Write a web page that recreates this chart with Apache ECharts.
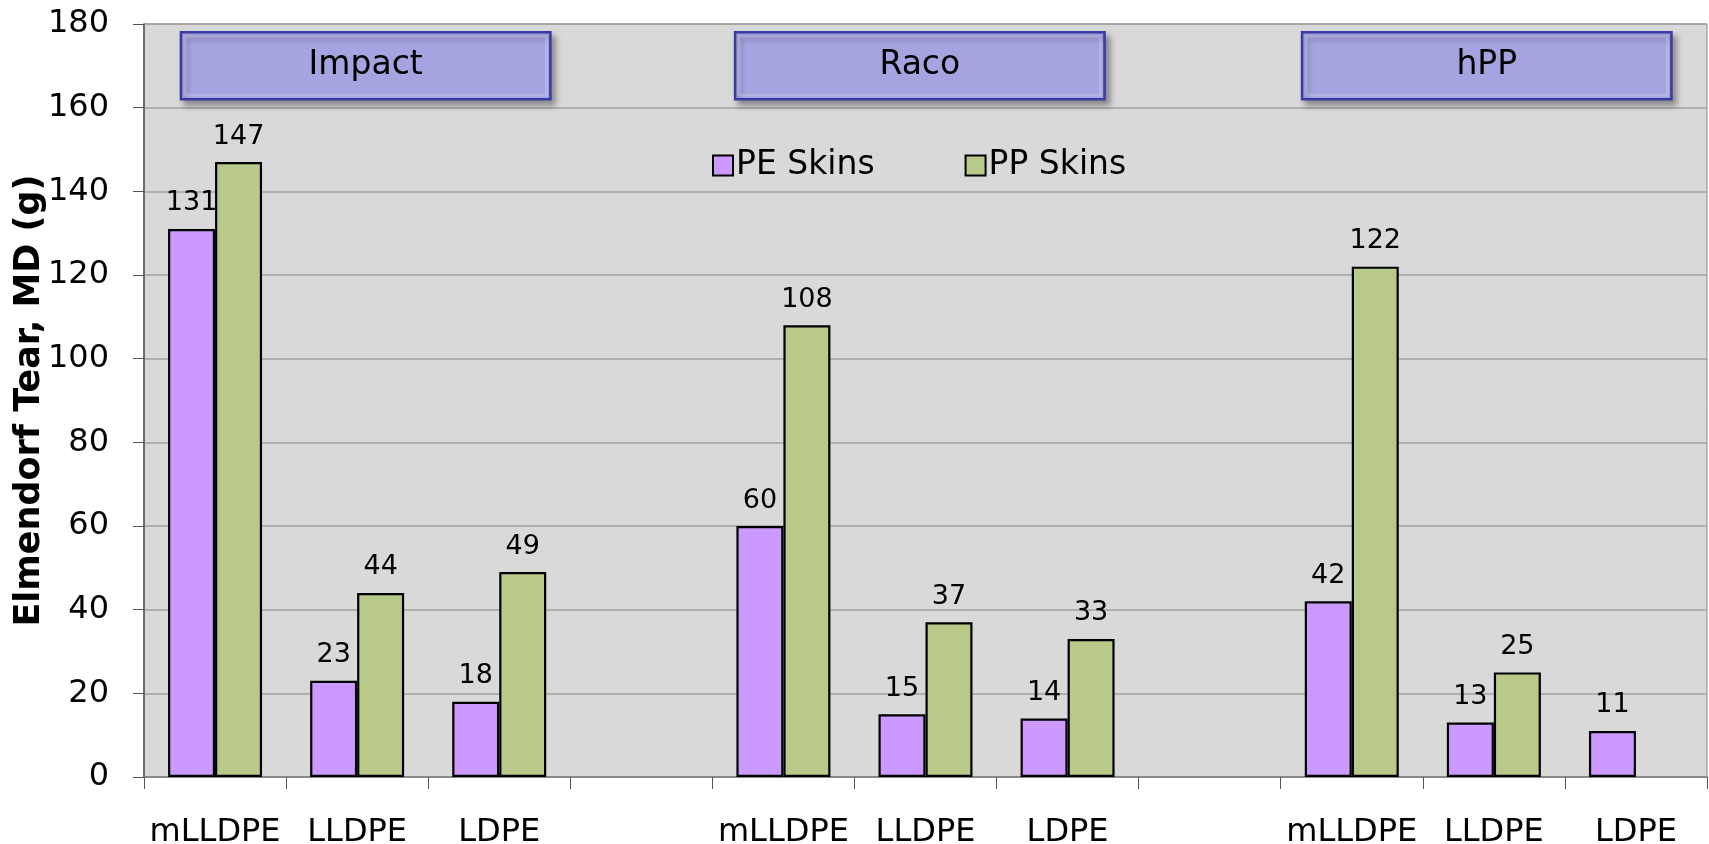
<!DOCTYPE html>
<html>
<head>
<meta charset="utf-8">
<title>Elmendorf Tear, MD</title>
<script src="https://cdn.jsdelivr.net/npm/echarts/dist/echarts.min.js"></script>
<style>
  html, body { margin: 0; padding: 0; background: #fff; }
  #chart { width: 1709px; height: 844px; }
</style>
</head>
<body>
<div id="chart"></div>
<script>
// categories (empty strings are the gaps between the three groups)
const categories = ['mLLDPE', 'LLDPE', 'LDPE', '', 'mLLDPE', 'LLDPE', 'LDPE', '', 'mLLDPE', 'LLDPE', 'LDPE']
const peSkins = [131, 23, 18, null, 60, 15, 14, null, 42, 13, 11]
const ppSkins = [147, 44, 49, null, 108, 37, 33, null, 122, 25, null]
// group header boxes: name + where the box starts, in category units
const groupNames = ['Impact', 'Raco', 'hPP']
const groupFrom = [0.26, 4.16, 8.15]

const FONT = 'DejaVu Sans, Verdana, sans-serif'

function initChart() {
  const chartEl = document.getElementById('chart')
  const myChart = echarts.init(chartEl, null, { renderer: 'canvas' })

  const barStyle = (color) => ({
    color: color,
    borderColor: '#000',
    borderWidth: 2.2
  })
  const labelStyle = {
    show: true,
    position: 'top',
    distance: 12,
    color: '#000',
    fontFamily: FONT,
    fontSize: 27
  }

  const options = {
    animation: false,
    textStyle: { fontFamily: FONT },
    grid: {
      left: 144,
      right: 2,
      top: 24,
      bottom: 67,
      show: true,
      backgroundColor: '#d9d9d9',
      borderColor: '#8c8c8c',
      borderWidth: 1,
      containLabel: false,
      outerBoundsMode: 'none' // 固定绘图区, 不自动收缩
    },
    legend: {
      left: 707,
      top: 144,
      itemWidth: 20,
      itemHeight: 20,
      itemGap: 90,
      icon: 'rect',
      textStyle: { color: '#000', fontSize: 33, fontFamily: FONT, padding: [0, 0, 0, -2] },
      data: ['PE Skins', 'PP Skins']
    },
    xAxis: {
      type: 'category',
      data: categories,
      axisLine: { lineStyle: { color: '#7f7f7f', width: 1.5 } },
      axisTick: { show: true, interval: 0, length: 12, lineStyle: { color: '#555' } },
      axisLabel: { interval: 0, margin: 40, color: '#000', fontSize: 32, fontFamily: FONT }
    },
    yAxis: {
      type: 'value',
      min: 0,
      max: 180,
      interval: 20,
      name: 'Elmendorf Tear, MD (g)',
      nameLocation: 'middle',
      nameRotate: 90,
      nameGap: 97,
      nameMoveOverlap: false, // 名称位置不要自动避让刻度文字
      nameTextStyle: { color: '#000', fontSize: 35, fontWeight: 'bold', fontFamily: FONT },
      axisLine: { show: true, lineStyle: { color: '#555', width: 1.5 } },
      axisTick: { show: true, length: 11, lineStyle: { color: '#555' } },
      axisLabel: { margin: 35, color: '#000', fontSize: 32, fontFamily: FONT },
      splitLine: { lineStyle: { color: '#a0a0a0', width: 1.5 } }
    },
    series: [
      {
        name: 'PE Skins',
        type: 'bar',
        barWidth: 47,
        barGap: '0%',
        itemStyle: barStyle('#cc99ff'),
        label: labelStyle,
        data: peSkins
      },
      {
        name: 'PP Skins',
        type: 'bar',
        barWidth: 47,
        barGap: '0%',
        itemStyle: barStyle('#b9c98a'),
        label: labelStyle,
        data: ppSkins
      }
    ]
  }
  myChart.setOption(options)

  // header boxes, placed from the axis scales
  const c0 = myChart.convertToPixel({ xAxisIndex: 0 }, 0)
  const c1 = myChart.convertToPixel({ xAxisIndex: 0 }, 1)
  const cw = c1 - c0
  const yTop = myChart.convertToPixel({ yAxisIndex: 0 }, 178)
  const yBot = myChart.convertToPixel({ yAxisIndex: 0 }, 162)
  const boxes = groupNames.map((name, i) => {
    const left = c0 - cw / 2 + groupFrom[i] * cw
    const w = cw * 2.6
    const h = yBot - yTop
    return {
      type: 'group',
      x: left,
      y: yTop,
      children: [
        {
          type: 'rect',
          shape: { x: 0, y: 0, width: w, height: h },
          style: {
            fill: '#a4a4e0',
            stroke: '#3a3aa6',
            lineWidth: 2.5,
            shadowBlur: 6,
            shadowOffsetX: 4,
            shadowOffsetY: 5,
            shadowColor: 'rgba(0,0,0,0.35)'
          }
        },
        {
          type: 'rect',
          shape: { x: 4, y: 4, width: w - 8, height: h - 8 },
          style: { fill: 'none', stroke: 'rgba(255,255,255,0.18)', lineWidth: 3 }
        },
        {
          type: 'text',
          x: w / 2,
          y: h / 2,
          style: {
            text: name,
            fill: '#000',
            font: '33px ' + FONT,
            textAlign: 'center',
            textVerticalAlign: 'middle'
          }
        }
      ]
    }
  })
  myChart.setOption({ graphic: boxes })
}

initChart()
</script>
</body>
</html>
